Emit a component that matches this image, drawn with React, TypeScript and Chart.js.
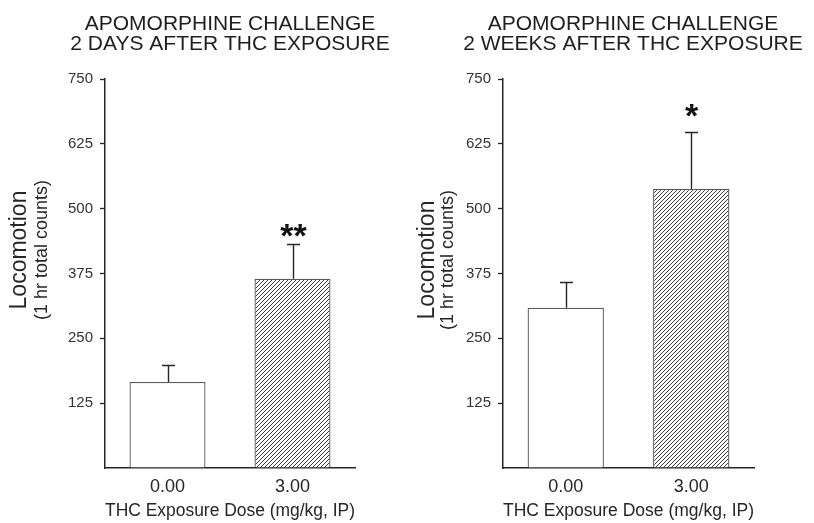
import React, { useEffect, useRef } from 'react';
import { Chart, registerables } from 'chart.js';

Chart.register(...registerables);

// ---- data ----
const doseLabels = ['0.00', '3.00'];
const twoDayMeans = [166, 365];
const twoDaySem = [33, 67];
const twoDayStars = ['', '**'];
const twoWeekMeans = [309, 538];
const twoWeekSem = [49, 110];
const twoWeekStars = ['', '*'];
const yMin = 0;
const yMax = 750;
const yStep = 125;
const titleDays = ['APOMORPHINE CHALLENGE', '2 DAYS AFTER THC EXPOSURE'];
const titleWeeks = ['APOMORPHINE CHALLENGE', '2 WEEKS AFTER THC EXPOSURE'];
const yTitle = 'Locomotion';
const ySubtitle = '(1 hr total counts)';
const xTitle = 'THC Exposure Dose (mg/kg, IP)';

const FONT = '"Liberation Sans", Arial, Helvetica, sans-serif';
const INK = '#262626';

function makeHatch(ctx: CanvasRenderingContext2D) {
  const c = document.createElement('canvas');
  c.width = 4;
  c.height = 4;
  const g = c.getContext('2d')!;
  g.fillStyle = '#ffffff';
  g.fillRect(0, 0, 4, 4);
  g.strokeStyle = '#3c3c3c';
  g.lineWidth = 1;
  g.beginPath();
  g.moveTo(0, 4);
  g.lineTo(4, 0);
  g.moveTo(-1, 1);
  g.lineTo(1, -1);
  g.moveTo(3, 5);
  g.lineTo(5, 3);
  g.stroke();
  return ctx.createPattern(c, 'repeat');
}

type PanelProps = {
  left: number;
  width: number;
  axisLeftWidth: number;
  axisRightWidth: number;
  title: string[];
  means: number[];
  sems: number[];
  stars: string[];
  starGap: number;
  yLabelX: number;
  ySubLabelX: number;
  yLabelCenter: number;
};

function Panel(p: PanelProps) {
  const ref = useRef<HTMLCanvasElement | null>(null);
  useEffect(() => {
    const canvas = ref.current!;
    const ctx = canvas.getContext('2d')!;
    const hatch = makeHatch(ctx);

    const annot = {
      id: 'annot',
      afterDatasetsDraw(chart: any) {
        const c = chart.ctx;
        const meta = chart.getDatasetMeta(0);
        const ys = chart.scales.y;
        c.save();
        c.strokeStyle = INK;
        c.lineWidth = 1.4;
        p.means.forEach((m, i) => {
          const bar = meta.data[i];
          const x = Math.round(bar.x) + 0.5;
          const yb = ys.getPixelForValue(m);
          const yt = Math.round(ys.getPixelForValue(m + p.sems[i])) + 0.5;
          c.beginPath();
          c.moveTo(x, yb);
          c.lineTo(x, yt);
          c.moveTo(x - 6.5, yt);
          c.lineTo(x + 6.5, yt);
          c.stroke();
          const s = p.stars[i];
          if (s) {
            const size = 34;
            c.fillStyle = '#111';
            c.font = `bold ${size}px ${FONT}`;
            c.textAlign = 'center';
            c.textBaseline = 'alphabetic';
            const cy = yt - p.starGap;
            c.fillText(s, x, cy + 0.585 * size);
          }
        });
        c.restore();
      },
      afterDraw(chart: any) {
        const c = chart.ctx;
        c.save();
        c.fillStyle = INK;
        c.textAlign = 'center';
        c.textBaseline = 'middle';
        c.translate(p.yLabelX, p.yLabelCenter);
        c.rotate(-Math.PI / 2);
        c.font = `23px ${FONT}`;
        c.fillText(yTitle, 0, 0);
        c.restore();
        c.save();
        c.fillStyle = INK;
        c.textAlign = 'center';
        c.textBaseline = 'middle';
        c.translate(p.ySubLabelX, p.yLabelCenter);
        c.rotate(-Math.PI / 2);
        c.font = `18px ${FONT}`;
        c.fillText(ySubtitle, 0, 0);
        c.restore();
      },
    };

    const chart = new Chart(canvas, {
      type: 'bar',
      data: {
        labels: doseLabels,
        datasets: [
          {
            data: p.means,
            backgroundColor: ['#ffffff', hatch as any],
            borderColor: '#5a5a5a',
            borderWidth: 1.3,
            barPercentage: 0.608,
            categoryPercentage: 1,
          },
        ],
      },
      options: {
        animation: false,
        responsive: false,
        devicePixelRatio: 1,
        layout: { padding: 0 },
        plugins: {
          legend: { display: false },
          tooltip: { enabled: false },
          title: {
            display: true,
            text: p.title,
            color: '#1e1e1e',
            font: { family: FONT, size: 21, weight: 'normal', lineHeight: '20px' },
            padding: { top: 14, bottom: 25 },
          },
        },
        scales: {
          x: {
            grid: { display: true, drawOnChartArea: false, drawTicks: false },
            border: { display: true, color: INK, width: 1.5 },
            ticks: { color: INK, padding: 8, font: { family: FONT, size: 18 } },
            title: {
              display: true,
              text: xTitle,
              color: INK,
              font: { family: FONT, size: 18 },
              padding: { top: 0, bottom: 1 },
            },
            afterFit: (s: any) => {
              s.height = 55;
            },
          },
          y: {
            min: yMin,
            max: yMax,
            grid: {
              display: true,
              drawOnChartArea: false,
              drawTicks: true,
              tickLength: 5,
              tickWidth: 1.3,
              tickColor: (c: any) => (c.tick && c.tick.value === 0 ? 'rgba(0,0,0,0)' : INK),
            },
            border: { display: true, color: INK, width: 1.5 },
            ticks: {
              stepSize: yStep,
              padding: 7,
              color: '#333',
              font: { family: FONT, size: 15 },
              callback: (v: any) => (v === 0 ? '' : String(v)),
            },
            afterFit: (s: any) => {
              s.width = p.axisLeftWidth;
            },
          },
          yPad: {
            type: 'linear',
            position: 'right',
            display: true,
            grid: { display: false, drawTicks: false },
            border: { display: false },
            ticks: { display: false },
            afterFit: (s: any) => {
              s.width = p.axisRightWidth;
            },
          },
        },
      } as any,
      plugins: [annot],
    });
    return () => chart.destroy();
  }, []);

  return (
    <canvas
      ref={ref}
      width={p.width}
      height={523}
      style={{ position: 'absolute', left: p.left, top: 0, width: p.width, height: 523 }}
    />
  );
}

export default function App() {
  return (
    <div
      style={{
        position: 'fixed',
        left: 0,
        top: 0,
        width: 814,
        height: 523,
        overflow: 'hidden',
        background: '#ffffff',
      }}
    >
      <Panel
        left={0}
        width={460}
        axisLeftWidth={105}
        axisRightWidth={105}
        title={titleDays}
        means={twoDayMeans}
        sems={twoDaySem}
        stars={twoDayStars}
        starGap={17}
        yLabelX={20}
        ySubLabelX={42}
        yLabelCenter={250}
      />
      <Panel
        left={407}
        width={452}
        axisLeftWidth={96}
        axisRightWidth={105}
        title={titleWeeks}
        means={twoWeekMeans}
        sems={twoWeekSem}
        stars={twoWeekStars}
        starGap={25}
        yLabelX={21}
        ySubLabelX={41}
        yLabelCenter={260}
      />
    </div>
  );
}
